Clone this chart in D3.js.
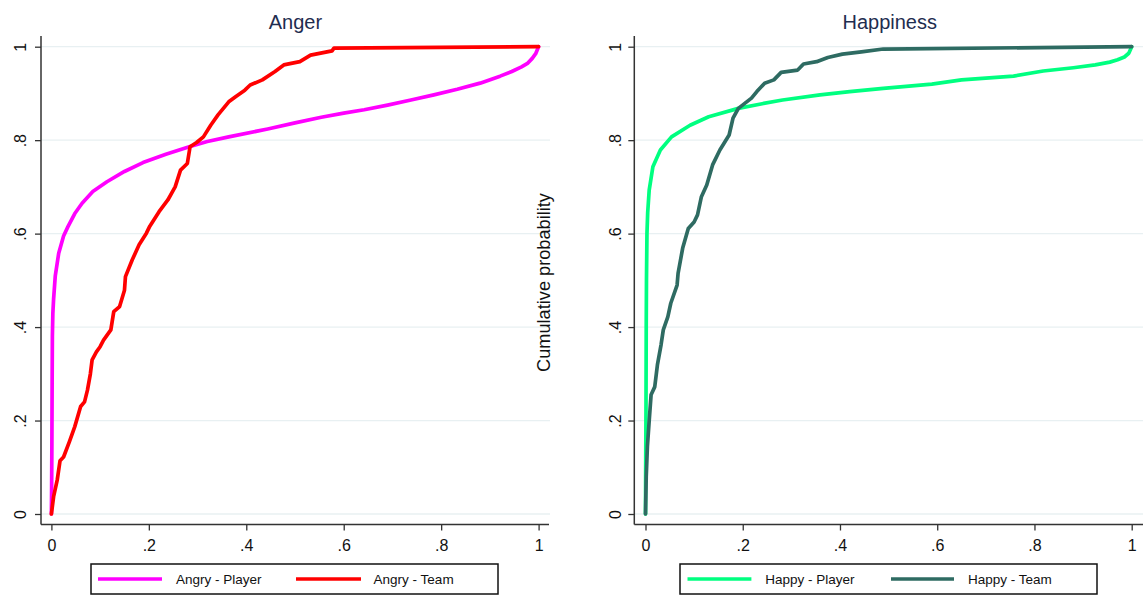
<!DOCTYPE html>
<html>
<head>
<meta charset="utf-8">
<script src="https://cdn.jsdelivr.net/npm/d3@7"></script>
<style>
  html, body { margin: 0; padding: 0; background: #fff; }
  svg { display: block; font-family: "Liberation Sans", Arial, sans-serif; }
</style>
</head>
<body>
<svg id="chart" width="1143" height="596"></svg>
<script>
// ---------- DATA ----------
const panelTitles = ["Anger", "Happiness"];
const yAxisTitle = "Cumulative probability";
const tickValues = [0, 0.2, 0.4, 0.6, 0.8, 1];
const tickLabels = ["0", ".2", ".4", ".6", ".8", "1"];
const seriesNames = ["Angry - Player", "Angry - Team", "Happy - Player", "Happy - Team"];
const seriesColors = ["#ff00ff", "#ff0000", "#00ff80", "#2e6b62"];

const angryPlayer = [[0,0],[0.0005,0.06],[0.001,0.15],[0.0015,0.28],[0.002,0.38],[0.003,0.43],[0.0045,0.46],[0.008,0.51],[0.015,0.558],[0.025,0.595],[0.034,0.615],[0.048,0.643],[0.063,0.665],[0.085,0.69],[0.114,0.711],[0.15,0.733],[0.188,0.752],[0.235,0.77],[0.283,0.786],[0.32,0.797],[0.364,0.807],[0.444,0.824],[0.5,0.837],[0.554,0.849],[0.6,0.858],[0.642,0.865],[0.69,0.875],[0.738,0.886],[0.785,0.897],[0.833,0.909],[0.88,0.922],[0.921,0.937],[0.945,0.947],[0.965,0.957],[0.978,0.965],[0.987,0.975],[0.994,0.985],[0.998,0.995],[1,1]];

const angryTeam = [[0,0],[0.0045,0.037],[0.012,0.073],[0.0177,0.114],[0.025,0.122],[0.037,0.155],[0.048,0.187],[0.06,0.23],[0.068,0.24],[0.074,0.265],[0.08,0.3],[0.0836,0.33],[0.0924,0.347],[0.1,0.358],[0.107,0.372],[0.122,0.394],[0.128,0.433],[0.14,0.444],[0.15,0.479],[0.152,0.508],[0.166,0.544],[0.18,0.576],[0.195,0.601],[0.202,0.616],[0.221,0.647],[0.239,0.672],[0.254,0.70],[0.265,0.736],[0.279,0.750],[0.2846,0.786],[0.298,0.795],[0.312,0.807],[0.327,0.832],[0.342,0.854],[0.353,0.868],[0.364,0.882],[0.378,0.893],[0.397,0.907],[0.408,0.918],[0.433,0.929],[0.459,0.947],[0.477,0.961],[0.51,0.968],[0.532,0.982],[0.576,0.991],[0.58,0.997],[1,1]];

const happyPlayer = [[0,0],[0.0005,0.12],[0.001,0.22],[0.0015,0.4],[0.002,0.5],[0.003,0.6],[0.0045,0.645],[0.0076,0.693],[0.0152,0.743],[0.0306,0.779],[0.0535,0.807],[0.0917,0.832],[0.13,0.85],[0.191,0.868],[0.24,0.878],[0.282,0.886],[0.359,0.897],[0.42,0.904],[0.489,0.911],[0.589,0.92],[0.65,0.929],[0.757,0.937],[0.818,0.948],[0.88,0.955],[0.925,0.961],[0.955,0.967],[0.971,0.972],[0.985,0.978],[0.994,0.986],[1,1]];

const happyTeam = [[0,0],[0.0015,0.08],[0.0039,0.144],[0.0077,0.201],[0.0115,0.255],[0.019,0.272],[0.0245,0.319],[0.032,0.362],[0.0366,0.394],[0.0459,0.422],[0.052,0.451],[0.065,0.49],[0.067,0.515],[0.0765,0.569],[0.088,0.611],[0.1,0.625],[0.107,0.64],[0.115,0.679],[0.126,0.704],[0.138,0.747],[0.153,0.779],[0.172,0.811],[0.18,0.847],[0.191,0.868],[0.218,0.89],[0.229,0.904],[0.245,0.922],[0.264,0.929],[0.279,0.945],[0.313,0.95],[0.325,0.963],[0.352,0.968],[0.375,0.977],[0.405,0.984],[0.444,0.989],[0.489,0.995],[1,1]];

// ---------- LAYOUT ----------
const svg = d3.select("#chart");
svg.append("rect").attr("width", 1143).attr("height", 596).attr("fill", "#fff");

const yScale = d3.scaleLinear().domain([0, 1]).range([514, 46.7]);
const xAxisY = 524.5;
const axisTop = 36;

const panels = [
  { title: panelTitles[0], titleX: 295.4, axisX: 41, labelX: 20, xRange: [51.4, 538.6], axisEnd: 549, gridEnd: 550,
    series: [{data: angryPlayer, name: seriesNames[0], color: seriesColors[0]}, {data: angryTeam, name: seriesNames[1], color: seriesColors[1]}],
    legend: {x0: 91, x1: 498, l1: [98, 162], t1: 176, l2: [296, 361], t2: 373.6} },
  { title: panelTitles[1], titleX: 889.7, axisX: 634.3, labelX: 615.7, xRange: [645.5, 1131.7], axisEnd: 1143, gridEnd: 1143,
    series: [{data: happyPlayer, name: seriesNames[2], color: seriesColors[2]}, {data: happyTeam, name: seriesNames[3], color: seriesColors[3]}],
    legend: {x0: 680, x1: 1097, l1: [687.5, 751.4], t1: 765.2, l2: [891, 954], t2: 968} }
];

const fmt = d => tickLabels[tickValues.findIndex(t => Math.abs(t - d) < 1e-9)];

panels.forEach(p => {
  const x = d3.scaleLinear().domain([0, 1]).range(p.xRange);
  const g = svg.append("g");

  // gridlines
  g.selectAll("line.grid").data(tickValues).join("line")
    .attr("x1", p.axisX).attr("x2", p.gridEnd)
    .attr("y1", d => yScale(d)).attr("y2", d => yScale(d))
    .attr("stroke", "#e8f0f2").attr("stroke-width", 1.3);

  // y axis
  const yAx = g.append("g").attr("transform", `translate(${p.axisX},0)`)
    .call(d3.axisLeft(yScale).tickValues(tickValues).tickSize(6).tickSizeOuter(0).tickFormat(fmt));
  yAx.select(".domain").remove();
  yAx.selectAll(".tick line").attr("stroke", "#333").attr("stroke-width", 1.3);
  yAx.selectAll(".tick text")
    .attr("x", null).attr("dy", null)
    .attr("transform", `translate(${p.labelX - p.axisX},0) rotate(-90)`)
    .attr("text-anchor", "middle").attr("dy", "0.36em")
    .attr("font-size", 16).attr("fill", "#111").attr("font-family", "Liberation Sans, Arial, sans-serif");

  // x axis
  const xAx = g.append("g").attr("transform", `translate(0,${xAxisY})`)
    .call(d3.axisBottom(x).tickValues(tickValues).tickSize(6).tickSizeOuter(0).tickPadding(9).tickFormat(fmt));
  xAx.select(".domain").remove();
  xAx.selectAll(".tick line").attr("stroke", "#333").attr("stroke-width", 1.3);
  xAx.selectAll(".tick text").attr("font-size", 16).attr("fill", "#111").attr("font-family", "Liberation Sans, Arial, sans-serif");

  // axis lines
  g.append("line").attr("x1", p.axisX).attr("x2", p.axisX).attr("y1", axisTop).attr("y2", xAxisY)
    .attr("stroke", "#333").attr("stroke-width", 1.5);
  g.append("line").attr("x1", p.axisX).attr("x2", p.axisEnd).attr("y1", xAxisY).attr("y2", xAxisY)
    .attr("stroke", "#333").attr("stroke-width", 1.5);

  // curves
  const line = d3.line().x(d => x(d[0])).y(d => yScale(d[1]));
  p.series.forEach(s => {
    g.append("path").attr("d", line(s.data)).attr("fill", "none")
      .attr("stroke", s.color).attr("stroke-width", 3.7)
      .attr("stroke-linejoin", "round").attr("stroke-linecap", "round");
  });

  // title
  svg.append("text").attr("x", p.titleX).attr("y", 28.5).attr("text-anchor", "middle")
    .attr("font-size", 20).attr("fill", "#1f2d50").text(p.title);

  // legend
  const L = p.legend;
  svg.append("rect").attr("x", L.x0).attr("y", 564).attr("width", L.x1 - L.x0).attr("height", 30)
    .attr("fill", "#fff").attr("stroke", "#111").attr("stroke-width", 1.5);
  [[L.l1, L.t1, p.series[0]], [L.l2, L.t2, p.series[1]]].forEach(([ln, tx, s]) => {
    svg.append("line").attr("x1", ln[0]).attr("x2", ln[1]).attr("y1", 579).attr("y2", 579)
      .attr("stroke", s.color).attr("stroke-width", 3.7);
    svg.append("text").attr("x", tx).attr("y", 579).attr("dy", "0.36em")
      .attr("font-size", 13.5).attr("fill", "#111").text(s.name);
  });
});

// shared y-axis title
svg.append("text").attr("transform", "translate(543.3,282.5) rotate(-90)")
  .attr("text-anchor", "middle").attr("dy", "0.36em")
  .attr("font-size", 18.2).attr("fill", "#111").text(yAxisTitle);
</script>
</body>
</html>
